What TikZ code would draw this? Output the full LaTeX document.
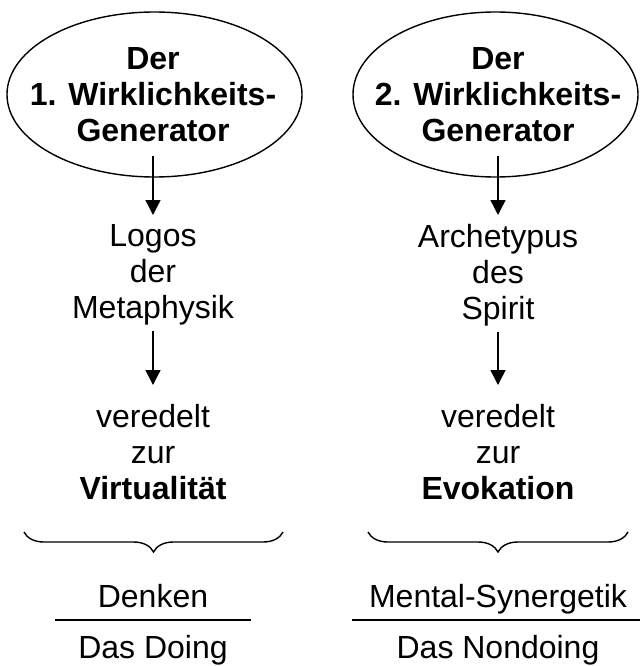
\documentclass[tikz,border=0pt]{standalone}
\usepackage{fontspec}
\setmainfont{Liberation Sans}
\usetikzlibrary{arrows.meta,shapes.geometric,decorations.pathreplacing}
\begin{document}
\begin{tikzpicture}[x=1pt,y=-1pt,
  txt/.style={align=center,inner sep=0pt,anchor=north,font=\fontsize{32}{36}\selectfont},
  btxt/.style={txt,font=\fontsize{32}{36}\selectfont\bfseries},
  gen/.style={draw,ellipse,line width=1.4pt,inner sep=0pt,minimum height=165pt},
  arr/.style={line width=1.4pt,-{Triangle[width=15pt,length=15pt]}},
  brc/.style={line width=1.4pt,decorate,decoration={brace,mirror,amplitude=20pt}},
  rule/.style={line width=1.4pt}]
\useasboundingbox (0,0) rectangle (640,666);
% left column
\node[gen,minimum width=295pt] (g1) at (154.5,94.5) {};
\node[btxt] (d1) at (153,47) {Der\\1. Wirklichkeits-\\Generator};
\node[txt] (l1) at (153,224) {Logos\\der\\Metaphysik};
\node[txt] (v1) at (153,404) {veredelt\\zur\\\textbf{Virtualität}};
\coordinate (b1a) at (24,532);
\coordinate (b1b) at (283,532);
\node[txt] (k1) at (153,584) {Denken};
\node[txt] (s1) at (153,635.5) {Das Doing};
\coordinate (r1a) at (55,620);
\coordinate (r1b) at (251,620);
\draw[arr] ([yshift=22pt]g1.south -| l1.north) -- ([yshift=9pt]l1.north);
\draw[arr] ([yshift=-6pt]l1.south) -- ([yshift=19pt]v1.north);
\draw[brc] (b1a) -- (b1b);
\draw[rule] (r1a) -- (r1b);
% right column
\node[gen,minimum width=285pt] (g2) at (495.5,94.5) {};
\node[btxt] (d2) at (498,47) {Der\\2. Wirklichkeits-\\Generator};
\node[txt] (l2) at (498,224) {Archetypus\\des\\Spirit};
\node[txt] (v2) at (498,404) {veredelt\\zur\\\textbf{Evokation}};
\coordinate (b2a) at (368,532);
\coordinate (b2b) at (628,532);
\node[txt] (k2) at (498,584) {Mental-Synergetik};
\node[txt] (s2) at (498,635.5) {Das Nondoing};
\coordinate (r2a) at (352,620);
\coordinate (r2b) at (640,620);
\draw[arr] ([yshift=22pt]g2.south -| l2.north) -- ([yshift=9pt]l2.north);
\draw[arr] ([yshift=-6pt]l2.south) -- ([yshift=19pt]v2.north);
\draw[brc] (b2a) -- (b2b);
\draw[rule] (r2a) -- (r2b);
\end{tikzpicture}
\end{document}
